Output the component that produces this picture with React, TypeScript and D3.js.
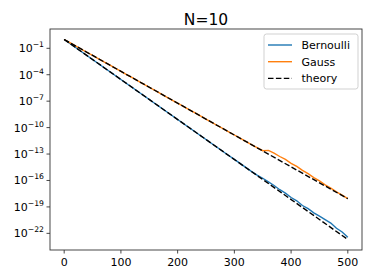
import * as d3 from "d3";

// step index (every 10 iterations) and log10 of the error
const steps = d3.range(0, 501, 10);

const bernoulliExp = [
  0, -0.45, -0.91, -1.36, -1.82, -2.27, -2.72, -3.18, -3.63, -4.09,
  -4.54, -4.99, -5.45, -5.9, -6.36, -6.81, -7.26, -7.72, -8.17, -8.63,
  -9.08, -9.53, -9.99, -10.44, -10.9, -11.35, -11.8, -12.26, -12.71, -13.17,
  -13.6, -14.06, -14.52, -14.97, -15.39, -15.75, -16.16, -16.57, -17.05, -17.43,
  -17.93, -18.31, -18.84, -19.2, -19.67, -20.05, -20.44, -20.83, -21.42, -21.85,
  -22.45,
];

const gaussExp = [
  0, -0.36, -0.72, -1.09, -1.45, -1.8, -2.17, -2.53, -2.89, -3.25,
  -3.61, -3.98, -4.34, -4.7, -5.06, -5.42, -5.78, -6.14, -6.51, -6.87,
  -7.23, -7.59, -7.95, -8.31, -8.67, -9.03, -9.4, -9.76, -10.12, -10.48,
  -10.84, -11.2, -11.56, -11.93, -12.27, -12.62, -12.58, -12.9, -13.28, -13.6,
  -14.05, -14.41, -14.86, -15.22, -15.67, -16.04, -16.5, -16.87, -17.3, -17.66,
  -18.05,
];

// theory lines: straight on the log axis
const theorySteps = [0, 500];
const theoryBernoulliExp = [0, -22.7];
const theoryGaussExp = [0, -18.07];

const yTickExp = [-1, -4, -7, -10, -13, -16, -19, -22];
const xTicks = [0, 100, 200, 300, 400, 500];

const legendItems = [
  { label: "Bernoulli", color: "#1f77b4", dash: "none" },
  { label: "Gauss", color: "#ff7f0e", dash: "none" },
  { label: "theory", color: "#000", dash: "5.5,2.4" },
];

const width = 374;
const height = 280;
const margin = { top: 29, right: 12, bottom: 30, left: 50 };
const font = "DejaVu Sans";

export default function App() {
  const x = d3
    .scaleLinear()
    .domain([-25, 525])
    .range([margin.left, width - margin.right]);
  const y = d3
    .scaleLog()
    .domain([Math.pow(10, -23.89), Math.pow(10, 1.19)])
    .range([height - margin.bottom, margin.top]);

  const line = d3
    .line<[number, number]>()
    .x((d) => x(d[0]))
    .y((d) => y(Math.pow(10, d[1])));

  const pts = (xs: number[], es: number[]) =>
    xs.map((s, i) => [s, es[i]] as [number, number]);

  const x0 = margin.left;
  const x1 = width - margin.right;
  const y0 = margin.top;
  const y1 = height - margin.bottom;

  const legX = 264;
  const legY = 34;

  return (
    <svg
      width={width}
      height={height}
      style={{ position: "fixed", left: 0, top: 0, background: "#fff" }}
      fontFamily={font}
    >
      <defs>
        <clipPath id="plot">
          <rect x={x0} y={y0} width={x1 - x0} height={y1 - y0} />
        </clipPath>
      </defs>
      <text x={(x0 + x1) / 2} y={24.5} textAnchor="middle" fontSize={15.5}>
        N=10
      </text>

      <g clipPath="url(#plot)" fill="none" strokeWidth={1.4}>
        <path d={line(pts(steps, bernoulliExp)) ?? ""} stroke="#1f77b4" />
        <path d={line(pts(steps, gaussExp)) ?? ""} stroke="#ff7f0e" />
        <path
          d={line(pts(theorySteps, theoryBernoulliExp)) ?? ""}
          stroke="#000"
          strokeDasharray="5.5,2.4"
        />
        <path
          d={line(pts(theorySteps, theoryGaussExp)) ?? ""}
          stroke="#000"
          strokeDasharray="5.5,2.4"
        />
      </g>

      <rect
        x={x0}
        y={y0}
        width={x1 - x0}
        height={y1 - y0}
        fill="none"
        stroke="#333"
        strokeWidth={0.9}
      />

      {yTickExp.map((e) => {
        const ty = y(Math.pow(10, e));
        return (
          <g key={e}>
            <line x1={x0 - 3.5} x2={x0} y1={ty} y2={ty} stroke="#333" strokeWidth={0.9} />
            <text x={x0 - 6} y={ty + 4} textAnchor="end" fontSize={11}>
              10
              <tspan fontSize={7.7} dy={-5}>
                {"\u2212" + Math.abs(e)}
              </tspan>
            </text>
          </g>
        );
      })}

      {xTicks.map((t) => (
        <g key={t}>
          <line x1={x(t)} x2={x(t)} y1={y1} y2={y1 + 3.5} stroke="#333" strokeWidth={0.9} />
          <text x={x(t)} y={y1 + 16} textAnchor="middle" fontSize={11}>
            {t}
          </text>
        </g>
      ))}

      <rect
        x={legX}
        y={legY}
        width={94}
        height={55}
        rx={2.5}
        fill="#fff"
        fillOpacity={0.8}
        stroke="#ccc"
        strokeWidth={0.9}
      />
      {legendItems.map((d, i) => {
        const ly = legY + 11 + i * 16.7;
        return (
          <g key={d.label}>
            <line
              x1={legX + 4}
              x2={legX + 28}
              y1={ly}
              y2={ly}
              stroke={d.color}
              strokeWidth={1.4}
              strokeDasharray={d.dash}
            />
            <text x={legX + 37.5} y={ly + 4} fontSize={11}>
              {d.label}
            </text>
          </g>
        );
      })}
    </svg>
  );
}
